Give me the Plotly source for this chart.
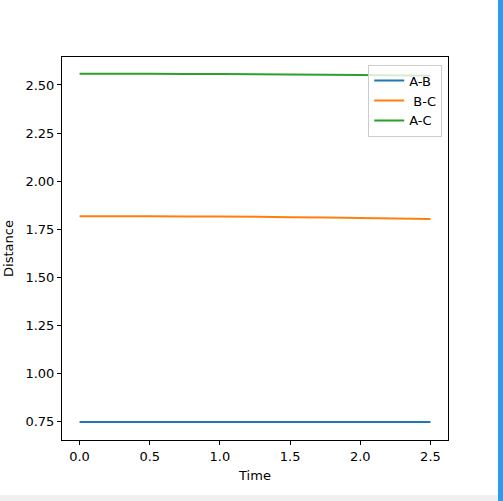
import plotly.graph_objects as go

time = [0.0, 0.5, 1.0, 1.5, 2.0, 2.5]
ab = [0.748, 0.748, 0.748, 0.748, 0.748, 0.748]
bc = [1.817, 1.817, 1.816, 1.813, 1.809, 1.803]
ac = [2.559, 2.558, 2.557, 2.555, 2.552, 2.548]
names = ["A-B", " B-C", "A-C"]
colors = ["#1f77b4", "#ff7f0e", "#2ca02c"]

fig = go.Figure()
for name, ys, c in zip(names, [ab, bc, ac], colors):
    fig.add_trace(go.Scatter(x=time, y=ys, mode="lines", name=name,
                             line=dict(color=c, width=2, shape="spline")))

axis_common = dict(showline=True, linecolor="black", linewidth=1, mirror=True,
                   ticks="outside", ticklen=4, tickcolor="black", showgrid=False,
                   zeroline=False, automargin=False,
                   tickfont=dict(size=13, color="black"))

W, H = 503, 501
L, R, T, B = 62, 55, 57, 61
PW, PH = W - L - R, H - T - B

fig.update_layout(
    width=W, height=H,
    margin=dict(l=L, r=R, t=T, b=B),
    paper_bgcolor="white", plot_bgcolor="white",
    font=dict(family="DejaVu Sans", size=13, color="black"),
    xaxis=dict(range=[-0.125, 2.625], tickvals=[0, 0.5, 1.0, 1.5, 2.0, 2.5],
               ticktext=["0.0", "0.5", "1.0", "1.5", "2.0", "2.5"],
               title=dict(text="Time", font=dict(size=13), standoff=8), **axis_common),
    yaxis=dict(range=[0.6545, 2.6455],
               tickvals=[0.75, 1.0, 1.25, 1.5, 1.75, 2.0, 2.25, 2.5],
               ticktext=["0.75", "1.00", "1.25", "1.50", "1.75", "2.00", "2.25", "2.50"],
               title=dict(text="Distance", font=dict(size=13), standoff=8), **axis_common),
    legend=dict(x=0.985, y=0.98, xanchor="right", yanchor="top",
                bgcolor="rgba(255,255,255,0.8)", bordercolor="#cccccc", borderwidth=1,
                font=dict(size=13), itemwidth=30),
    showlegend=True,
    shapes=[
        dict(type="rect", xref="paper", yref="paper", x0=-L / PW, x1=(498 - L) / PW,
             y0=-B / PH, y1=-(495 - T - PH) / PH, fillcolor="#f0f0f0",
             line=dict(width=0), layer="below"),
        dict(type="rect", xref="paper", yref="paper", x0=(498 - L) / PW, x1=(W - L) / PW,
             y0=-B / PH, y1=(T + PH) / PH, fillcolor="#2b9af0", line=dict(width=0)),
    ],
)

fig.write_html("out.html", config={"displayModeBar": False},
               post_script="document.body.style.margin='0';")
